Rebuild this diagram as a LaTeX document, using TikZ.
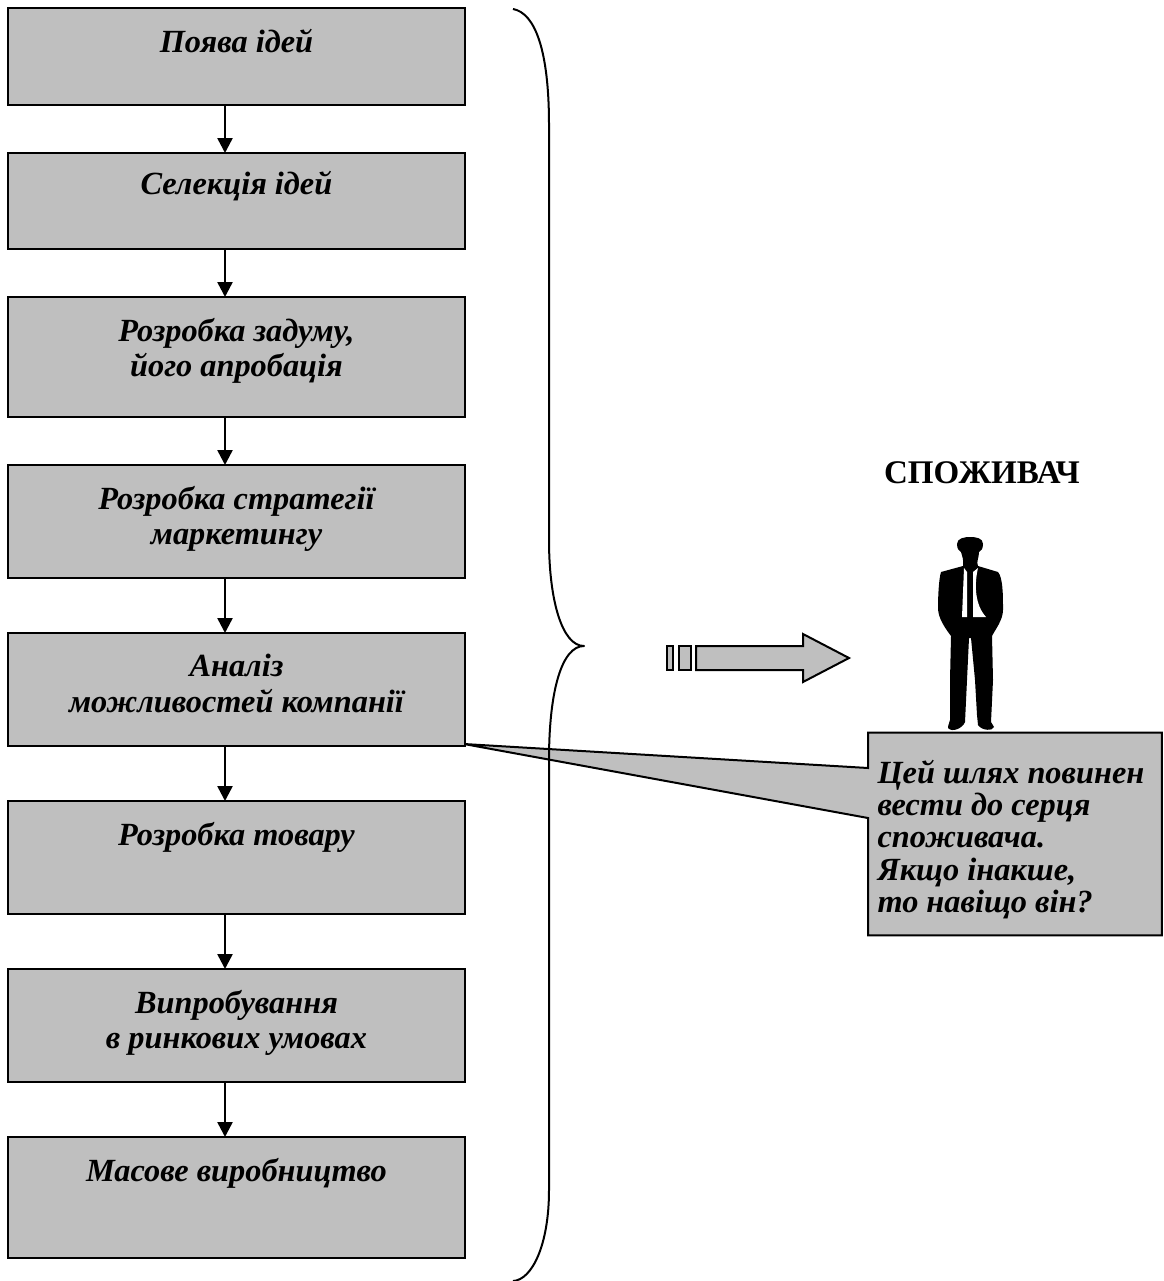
\documentclass[tikz,border=0pt]{standalone}
\usepackage{fontspec}
\setmainfont{Liberation Serif}
\usetikzlibrary{arrows.meta,backgrounds,calc}
\definecolor{boxgray}{gray}{0.75}
\newcommand{\boxtext}[2]{\parbox[c][\dimexpr0.02cm*#1\relax][t]{8.9cm}{\centering\vspace{0.42cm}#2}}
\tikzset{
  stepbox/.style={draw,line width=0.04cm,fill=boxgray,inner sep=0pt,minimum width=9.14cm,
    font=\fontsize{18.4}{20.4}\selectfont\bfseries\itshape},
  flowarrow/.style={line width=0.05cm,-{Triangle[length=0.3cm,width=0.3cm]},shorten >=-0.02cm},
  graybar/.style={draw,line width=0.04cm,fill=boxgray},
  thinline/.style={line width=0.04cm,line join=round},
}
\begin{document}
\begin{tikzpicture}[x=0.02cm,y=-0.02cm]
\useasboundingbox (0,0) rectangle (1163,1281);
\coordinate (axis) at (225,0);
% steps
\node[stepbox] (ideas) at (236.5,56.5) {\boxtext{97}{Поява ідей}};
\node[stepbox] (selection) at (236.5,201) {\boxtext{96}{\vspace{-0.06cm}Селекція ідей}};
\node[stepbox] (concept) at (236.5,357) {\boxtext{120}{Розробка задуму,\\ його апробація}};
\node[stepbox] (strategy) at (236.5,521.5) {\boxtext{113}{Розробка стратегії\\ маркетингу}};
\node[stepbox] (analysis) at (236.5,689.5) {\boxtext{113}{Аналіз\\ можливостей компанії}};
\node[stepbox] (product) at (236.5,857.5) {\boxtext{113}{Розробка товару}};
\node[stepbox] (testing) at (236.5,1025.5) {\boxtext{113}{Випробування\\ в ринкових умовах}};
\node[stepbox] (massprod) at (236.5,1197.5) {\boxtext{121}{Масове виробництво}};
\foreach \a/\b in {ideas/selection,selection/concept,concept/strategy,strategy/analysis,analysis/product,product/testing,testing/massprod}
{   \draw[flowarrow] (\a.south -| axis) -- (\b.north -| axis);
}
% brace
\coordinate (bracetip) at (584,646);
\draw[thinline] (513,9) .. controls (535,13) and (549,50) .. (549,125)
  -- (549,540) .. controls (549,600) and (562,646) .. (bracetip)
  .. controls (562,646) and (549,690) .. (549,760)
  -- (549,1190) .. controls (549,1245) and (532,1280) .. (513,1281);
% arrow to the consumer
\draw[graybar] (667,646) rectangle (673,670);
\draw[graybar] (679,646) rectangle (691,670);
\draw[graybar] (696,646) -- (803,646) -- (803,634) -- (849,658) -- (803,682) -- (803,670) -- (696,670) -- cycle;
% consumer
\node[font=\fontsize{18.8}{20.4}\selectfont\bfseries] (consumer) at (982,473) {СПОЖИВАЧ};
\fill (957,544) .. controls (957,538) and (965,537) .. (970,537) .. controls (976,537) and (983,538) .. (983,544)
  .. controls (983,549) and (981,551) .. (979,552) .. controls (979,558) and (976,562) .. (978,566)
  -- (998,572) .. controls (1003,578) and (1003,595) .. (1003,610) .. controls (1003,620) and (995,630) .. (992,636)
  -- (993,680) -- (991,722) -- (994,727) .. controls (993,731) and (982,731) .. (978,725)
  -- (977,715) -- (975,680) -- (971,638) -- (969,638) -- (967,680) -- (965,722)
  .. controls (963,728) and (952,733) .. (948,728) .. controls (948,724) and (950,722) .. (950,720)
  -- (950,680) -- (951,636) .. controls (945,628) and (938,618) .. (938,608)
  .. controls (938,595) and (939,578) .. (941,572) -- (963,566) .. controls (964,560) and (962,556) .. (961,552)
  .. controls (959,551) and (957,549) .. (957,544) -- cycle;
\fill[white] (964,568) -- (967,572) -- (967,617) -- (962,617) -- cycle;
\fill[white] (973,572) -- (978,568) .. controls (974,585) and (975,605) .. (986,617) -- (973,617) -- cycle;
% note
\node[stepbox,minimum width=5.84cm,minimum height=4.02cm,draw=none,fill=none] (note) at (1015,834)
  {\parbox[c][4.0cm][t]{5.5cm}{\raggedright\fontsize{18.4}{18.4}\selectfont\vspace{0.52cm}Цей шлях повинен\\ вести до серця\\ споживача.\\ Якщо інакше,\\ то навіщо він?}};
\coordinate (pointer) at ($(analysis.south east)+(-2,-3)$);
\begin{scope}[on background layer]
\draw[graybar] (note.north west) -- (note.north east) -- (note.south east) -- (note.south west)
  -- (868,818) -- (pointer) -- (868,768) -- cycle;
\end{scope}
\end{tikzpicture}
\end{document}
